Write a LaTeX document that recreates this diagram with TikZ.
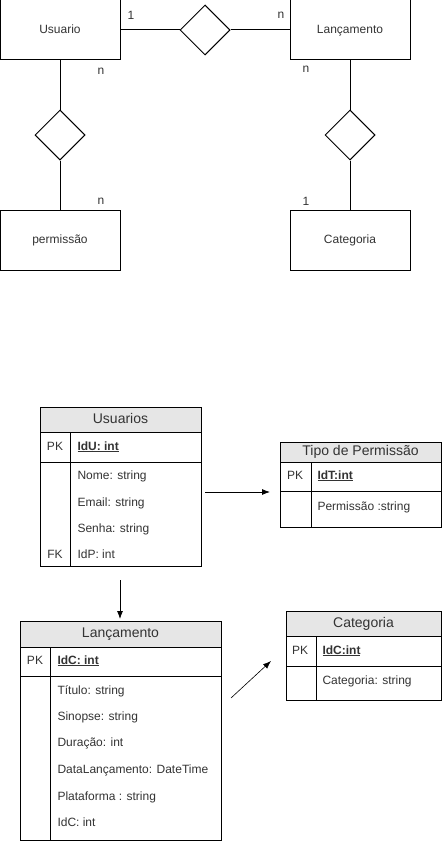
\documentclass[tikz,border=0pt]{standalone}
\usepackage{fontspec}
\setmainfont{Liberation Sans}
\usetikzlibrary{shapes.geometric,arrows.meta}
\definecolor{txt}{HTML}{333333}
\definecolor{hdr}{HTML}{E6E6E6}
\begin{document}
\begin{tikzpicture}[x=1pt,y=-1pt,line width=1pt,
  ent/.style={draw,minimum width=120pt,minimum height=60pt,inner sep=0pt,text height=8.6pt,text depth=2.5pt,font=\fontsize{12}{14}\selectfont,text=txt},
  rel/.style={draw,diamond,minimum width=50pt,minimum height=50pt,inner sep=0pt},
  card/.style={font=\fontsize{12}{14}\selectfont,text=txt,inner sep=0pt},
  hbox/.style={draw,fill=hdr,inner sep=0pt,text height=10pt,text depth=3pt,font=\fontsize{14}{16}\selectfont,text=txt},
  bbox/.style={draw,inner sep=0pt},
  fld/.style={anchor=west,inner sep=0pt,text height=8.6pt,text depth=2.5pt,font=\fontsize{12}{14}\selectfont,text=txt},
  key/.style={inner sep=0pt,text height=8.6pt,text depth=2.5pt,font=\fontsize{12}{14}\selectfont,text=txt},
  arr/.style={-{Latex[length=8pt,width=6pt]},line width=0.8pt}]
\useasboundingbox (0,0) rectangle (446,843);
% ER diagram
\node[ent] (usuario) at (60,30) {Usuario};
\node[ent] (lanc) at (350,30) {Lançamento};
\node[ent] (perm) at (60,240) {permissão};
\node[ent] (cat) at (350,240) {Categoria};
\node[rel] (r1) at (205,30) {};
\node[rel] (r2) at (60,135) {};
\node[rel] (r3) at (350,135) {};
\draw (usuario.east) -- (r1.west);
\draw (r1.east) -- (lanc.west);
\draw (usuario.south) -- (r2.north);
\draw (r2.south) -- (perm.north);
\draw (lanc.south) -- (r3.north);
\draw (r3.south) -- (cat.north);
\node[card] (c1) at (131,15) {1};
\node[card] (c2) at (281,15) {n};
\node[card] (c3) at (101,71) {n};
\node[card] (c4) at (101,201) {n};
\node[card] (c5) at (306,69) {n};
\node[card] (c6) at (306,201) {1};
% Usuarios table
\node[hbox,minimum width=161pt,minimum height=25pt] (uh) at (120.5,419.5) {Usuarios};
\node[bbox,minimum width=161pt,minimum height=134pt] (ub) at (120.5,499) {};
\draw (40,462) -- (201,462);
\draw (70,432) -- (70,566);
\node[key] (upk) at (55,447) {PK};
\node[fld] (uf0) at (77,447) {\underline{\textbf{IdU: int}}};
\node[fld] (uf1) at (77,476) {Nome: string};
\node[fld] (uf2) at (77,503) {Email: string};
\node[fld] (uf3) at (77,529) {Senha: string};
\node[fld] (uf4) at (77,555) {IdP: int};
\node[key] (ufk) at (55,555) {FK};
% Tipo de Permissao table
\node[hbox,minimum width=161pt,minimum height=20pt] (th) at (360.5,452) {Tipo de Permissão};
\node[bbox,minimum width=161pt,minimum height=65pt] (tb) at (360.5,494.5) {};
\draw (280,491) -- (441,491);
\draw (311,462) -- (311,527);
\node[key] (tpk) at (295,476) {PK};
\node[fld] (tf0) at (317,476) {\underline{\textbf{IdT:int}}};
\node[fld] (tf1) at (317,507) {Permissão :string};
% Lancamento table
\node[hbox,minimum width=201pt,minimum height=26pt] (lh) at (120.5,634) {Lançamento};
\node[bbox,minimum width=201pt,minimum height=193pt] (lb) at (120.5,743.5) {};
\draw (20,676) -- (221,676);
\draw (50,647) -- (50,840);
\node[key] (lpk) at (35,661) {PK};
\node[fld] (lf0) at (57,661) {\underline{\textbf{IdC: int}}};
\node[fld] (lf1) at (57,691) {Título: string};
\node[fld] (lf2) at (57,717) {Sinopse: string};
\node[fld] (lf3) at (57,743) {Duração: int};
\node[fld] (lf4) at (57,770) {DataLançamento: DateTime};
\node[fld] (lf5) at (57,797) {Plataforma : string};
\node[fld] (lf6) at (57,823) {IdC: int};
% Categoria table
\node[hbox,minimum width=155pt,minimum height=25pt] (ch) at (363.5,623.5) {Categoria};
\node[bbox,minimum width=155pt,minimum height=64pt] (cb) at (363.5,668) {};
\draw (286,666) -- (441,666);
\draw (316,636) -- (316,700);
\node[key] (cpk) at (300,651) {PK};
\node[fld] (cf0) at (322,651) {\underline{\textbf{IdC:int}}};
\node[fld] (cf1) at (322,681) {Categoria: string};
% free arrows
\coordinate (a1s) at (205,492);
\coordinate (a1e) at (270,492);
\coordinate (a2s) at (120,580);
\coordinate (a2e) at (120,619);
\coordinate (a3s) at (231,698);
\coordinate (a3e) at (271,661);
\draw[arr] (a1s) -- (a1e);
\draw[arr] (a2s) -- (a2e);
\draw[arr,line width=0.6pt] (a3s) -- (a3e);
\end{tikzpicture}
\end{document}
